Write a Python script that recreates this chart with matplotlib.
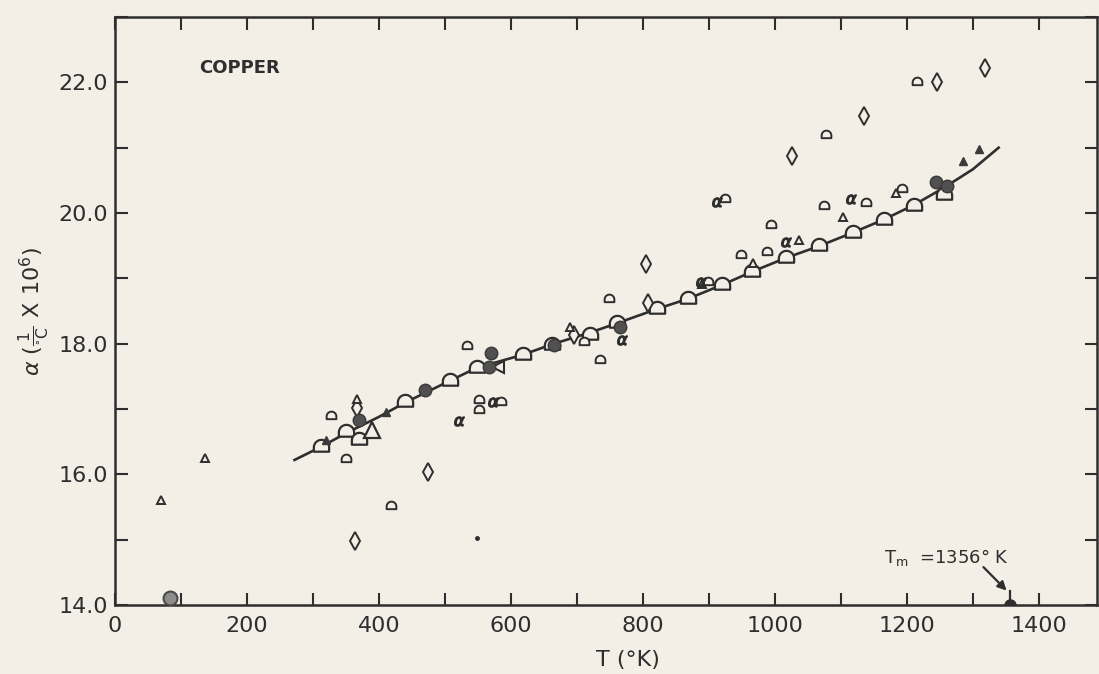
import numpy as np
import matplotlib
matplotlib.use("Agg")
import matplotlib.pyplot as plt
from matplotlib.path import Path
from matplotlib.ticker import MultipleLocator, FormatStrFormatter

# recommended curve
line_T = [272, 312, 350, 400, 440, 507, 548, 618, 662, 720, 760, 821, 869, 920,
          965, 1016, 1066, 1118, 1165, 1210, 1255, 1300, 1339]
line_a = [16.22, 16.42, 16.63, 16.88, 17.10, 17.43, 17.63, 17.83, 17.99, 18.17, 18.31,
          18.53, 18.69, 18.90, 19.10, 19.31, 19.49, 19.70, 19.90, 20.12, 20.38, 20.67, 21.00]

# large open points lying on the curve
circ_T = [312, 350, 370, 440, 507, 548, 618, 662, 720, 760, 821, 869, 920, 965,
          1016, 1066, 1118, 1165, 1210, 1256]
circ_a = [16.42, 16.65, 16.53, 17.10, 17.43, 17.63, 17.82, 17.98, 18.13, 18.32, 18.53,
          18.69, 18.90, 19.10, 19.31, 19.49, 19.70, 19.90, 20.11, 20.28]

# small open points
dome_T = [350, 418, 327, 534, 551, 551, 585, 748, 735, 710, 898, 949, 988, 994,
          1075, 1138, 1193, 1216, 1077, 925, 1244]
dome_a = [16.23, 15.52, 16.89, 17.96, 16.98, 17.14, 17.10, 18.69, 17.75, 18.02, 18.95,
          19.36, 19.41, 19.81, 20.10, 20.16, 20.36, 22.00, 21.19, 20.22, 20.47]

diam_T = [364, 475, 805, 808, 1026, 1135, 1246, 1318, 367, 695]
diam_a = [14.98, 16.04, 19.22, 18.62, 20.88, 21.48, 22.00, 22.22, 17.02, 18.13]

tri_T = [70, 137, 367, 690, 967, 1037, 1103, 889, 1183]
tri_a = [15.61, 16.25, 17.15, 18.26, 19.23, 19.58, 19.94, 18.92, 20.30]

bigtri_T = [390]
bigtri_a = [16.68]
ltri_T = [581]
ltri_a = [17.65]

alpha_T = [521, 573, 768, 888, 912, 1017, 1115]
alpha_a = [16.82, 17.10, 18.06, 18.94, 20.17, 19.55, 20.21]

fill_T = [369, 470, 569, 566, 665, 765, 1244, 1261]
fill_a = [16.83, 17.29, 17.85, 17.65, 17.98, 18.26, 20.47, 20.41]

ftri_T = [320, 411, 1285, 1309]
ftri_a = [16.52, 16.96, 20.80, 20.98]

ring_T = [84]
ring_a = [14.10]
dot_T = [548]
dot_a = [15.02]

tm_T = 1356

bg = "#f3eee6"
ink = "#2e2e2e"

# dome shaped open marker (circle with flat bottom)
t = np.linspace(0, np.pi, 25)
dome_v = np.vstack([np.column_stack([np.cos(t), np.sin(t)]),
                    [[-1, -0.55], [1, -0.55], [1, 0]]])
dome = Path(dome_v, closed=True)

fig = plt.figure(figsize=(10.99, 6.74), dpi=100, facecolor=bg)
ax = fig.add_axes([115 / 1099, 1 - 605 / 674, 982 / 1099, 588 / 674], facecolor=bg)

ax.plot(line_T, line_a, color=ink, lw=1.9, zorder=2)

ax.plot(circ_T, circ_a, ls="none", marker=dome, ms=11, mfc=bg, mec=ink, mew=1.6, zorder=4)
ax.plot(dome_T, dome_a, ls="none", marker=dome, ms=7, mfc=bg, mec=ink, mew=1.4, zorder=4)
ax.plot(diam_T, diam_a, ls="none", marker="d", ms=9, mfc=bg, mec=ink, mew=1.4, zorder=4)
ax.plot(tri_T, tri_a, ls="none", marker="^", ms=5.5, mfc=bg, mec=ink, mew=1.4, zorder=4)
ax.plot(bigtri_T, bigtri_a, ls="none", marker="^", ms=11, mfc=bg, mec=ink, mew=1.6, zorder=4)
ax.plot(ltri_T, ltri_a, ls="none", marker="<", ms=8, mfc=bg, mec=ink, mew=1.5, zorder=4)
ax.plot(alpha_T, alpha_a, ls="none", marker=r"$\alpha$", ms=7, color=ink, zorder=5)
ax.plot(fill_T, fill_a, ls="none", marker="o", ms=9, mfc="#505050", mec="#3a3a3a", zorder=5)
ax.plot(ftri_T, ftri_a, ls="none", marker="^", ms=6, color="#3a3a3a", zorder=5)
ax.plot(ring_T, ring_a, ls="none", marker="o", ms=10, mfc="#8c8c8c", mec="#4a4a4a", mew=1.5, zorder=5)
ax.plot(dot_T, dot_a, ls="none", marker="o", ms=2.5, color=ink, zorder=5)

# melting point marker
ax.plot([tm_T, tm_T], [14.0, 14.22], color=ink, lw=1.6, zorder=5)
ax.plot([tm_T], [14.0], ls="none", marker="o", ms=8, color=ink, zorder=5)
ax.annotate("", xy=(1354, 14.19), xytext=(1313, 14.61),
            arrowprops=dict(arrowstyle="-|>", lw=1.6, color=ink, mutation_scale=13))
ax.text(1166, 14.64, r"T$_\mathrm{m}$  =1356° K", fontsize=13, color=ink, va="baseline")

ax.text(128, 22.22, "COPPER", fontsize=13, fontweight="bold", color=ink, va="center")

ax.set_xlim(0, 1488)
ax.set_ylim(14, 23)

ax.xaxis.set_major_locator(MultipleLocator(200))
ax.xaxis.set_minor_locator(MultipleLocator(100))
ax.yaxis.set_major_locator(MultipleLocator(2))
ax.yaxis.set_minor_locator(MultipleLocator(1))
ax.yaxis.set_major_formatter(FormatStrFormatter("%.1f"))

ax.tick_params(which="both", direction="in", length=9, width=1.5, color=ink,
               top=True, right=True, labelcolor=ink, labelsize=16)
ax.tick_params(axis="x", pad=8)
ax.tick_params(axis="y", pad=5)

for s in ax.spines.values():
    s.set_linewidth(1.8)
    s.set_color(ink)

ax.set_xlabel("T (°K)", fontsize=16, color=ink)
ax.xaxis.set_label_coords(0.522, -0.076)
ax.set_ylabel(r"$\alpha\ (\frac{1}{{}^{\circ}\mathrm{C}}\ \mathrm{X}\ 10^{6})$", fontsize=16, color=ink)
ax.yaxis.set_label_coords(-0.064, 0.5)

fig.savefig("out.png", dpi=100, facecolor=bg)
